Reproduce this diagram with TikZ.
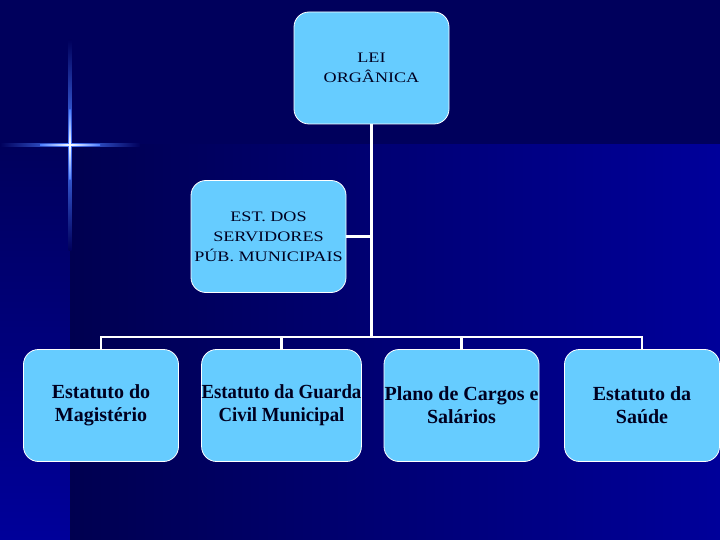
\documentclass[tikz,border=0pt]{standalone}
\usepackage{fontspec}
\setmainfont{Liberation Serif}
\usetikzlibrary{positioning}

\definecolor{boxblue}{HTML}{66CCFF}
\definecolor{boxtext}{HTML}{000020}
\definecolor{bgtop}{HTML}{00005C}
\definecolor{bgdark}{HTML}{000050}
\definecolor{bgside}{HTML}{00009A}
\definecolor{glow}{HTML}{4A7CFF}

\begin{document}
\begin{tikzpicture}[x=1pt, y=-1pt,
	orgbox/.style={draw=white, line width=0.8pt, fill=boxblue, rounded corners=15pt,
		minimum width=155pt, minimum height=112pt, inner sep=0pt, align=center, text=boxtext},
	smalltext/.style={font=\fontsize{14.5}{20}\selectfont\addfontfeature{FakeStretch=1.25}},
	bigtext/.style={font=\bfseries\fontsize{20}{23}\selectfont},
	narrowtext/.style={font=\bfseries\fontsize{20}{23}\selectfont\addfontfeature{FakeStretch=0.94}},
	link/.style={draw=white, line width=2.5pt}]
			\useasboundingbox (0,0) rectangle (720,540);
			
			%% background
			\fill[bgtop] (0,0) rectangle (720,145);
			\shade[top color=bgtop, bottom color=bgside] (0,145) rectangle (70,540);
			\shade[left color=bgdark, right color=bgside] (70,145) rectangle (720,540);
			
			%% star
			\shade[left color=bgtop, right color=bgtop, middle color=glow] (0,143.5) rectangle (140,146.5);
			\shade[top color=bgtop, bottom color=bgtop, middle color=glow] (68.5,40) rectangle (71.5,250);
			\shade[left color=glow, right color=glow, middle color=white] (40,144.3) rectangle (100,145.7);
			\shade[top color=glow, bottom color=glow, middle color=white] (69.3,110) rectangle (70.7,180);
			
			\node[orgbox, smalltext] (lei) at (371.5,68) {LEI\\ORGÂNICA};
			\node[orgbox, smalltext] (est) at (268.5,236.5) {EST. DOS\\SERVIDORES\\PÚB. MUNICIPAIS};
			
			\node[orgbox, bigtext] (mag) at (101,405.5) {Estatuto do\\Magistério};
			\node[orgbox, narrowtext] (gcm) at (281.5,405.5) {Estatuto da Guarda\\Civil Municipal};
			\node[orgbox, bigtext] (pcs) at (461.5,405.5) {Plano de Cargos e\\Salários};
			\node[orgbox, bigtext] (sau) at (642,405.5) {Estatuto da\\Saúde};
			
			%% links
			\coordinate (hub) at (371.5,337);
			\draw[link] (lei.south) -- (hub);
			\draw[link] (est.east) -- (est.east -| hub);
			\draw[link] (mag.north) -- (mag.north |- hub) -- (sau.north |- hub) -- (sau.north);
			\draw[link] (gcm.north) -- (gcm.north |- hub);
			\draw[link] (pcs.north) -- (pcs.north |- hub);
			
\end{tikzpicture}
\end{document}
